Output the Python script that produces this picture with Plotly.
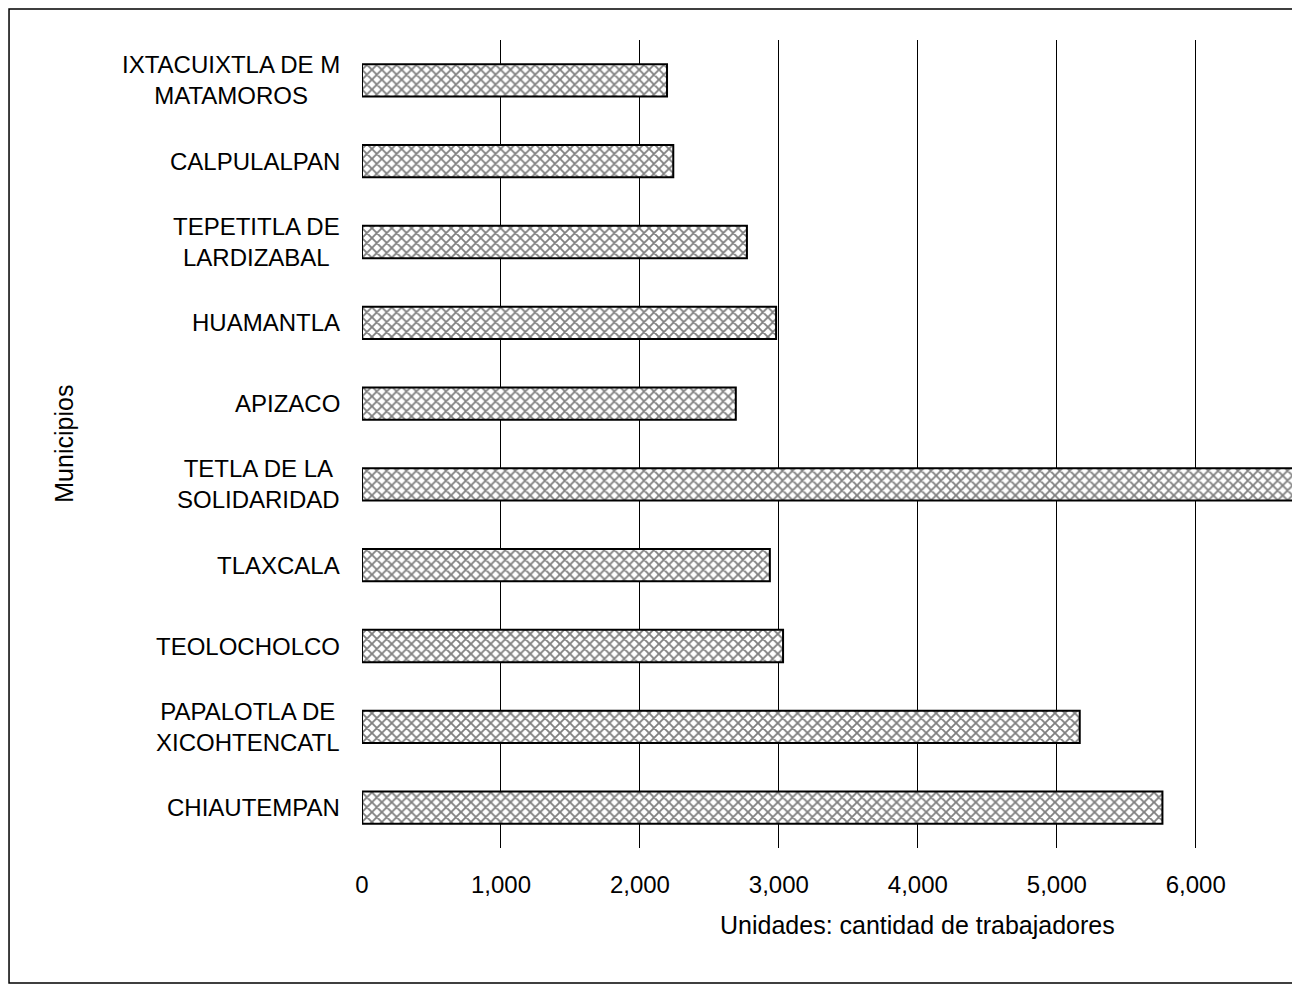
import plotly.graph_objects as go

municipios = [
    "IXTACUIXTLA DE M<br>MATAMOROS",
    "CALPULALPAN",
    "TEPETITLA DE<br>LARDIZABAL",
    "HUAMANTLA",
    "APIZACO",
    "TETLA DE LA<br>SOLIDARIDAD",
    "TLAXCALA",
    "TEOLOCHOLCO",
    "PAPALOTLA DE<br>XICOHTENCATL",
    "CHIAUTEMPAN",
]
trabajadores = [2195, 2240, 2770, 2980, 2690, 6900, 2935, 3030, 5165, 5760]
tick_vals = [0, 1000, 2000, 3000, 4000, 5000, 6000]
tick_text = ["0", "1,000", "2,000", "3,000", "4,000", "5,000", "6,000"]

FONT = "Liberation Sans, Arial, sans-serif"

fig = go.Figure()
fig.add_trace(go.Bar(
    x=trabajadores,
    y=municipios,
    orientation="h",
    width=0.4,
    marker=dict(
        color="white",
        line=dict(color="black", width=2),
        pattern=dict(shape="x", size=7, solidity=0.45, fgcolor="black", bgcolor="white"),
    ),
    showlegend=False,
    cliponaxis=True,
))

for name in municipios:
    fig.add_annotation(
        x=0, xref="paper", y=name, yref="y",
        text=name, showarrow=False, xanchor="right", yanchor="middle",
        xshift=-20, align="center",
        font=dict(family=FONT, size=24, color="black"),
    )

fig.add_annotation(
    x=0.592, xref="paper", y=-0.095, yref="paper",
    text="Unidades: cantidad de trabajadores", showarrow=False,
    xanchor="center", yanchor="middle",
    font=dict(family=FONT, size=25, color="black"),
)
fig.add_annotation(
    x=-0.318, xref="paper", y=0.5, yref="paper",
    text="Municipios", showarrow=False, textangle=-90,
    xanchor="center", yanchor="middle",
    font=dict(family=FONT, size=25, color="black"),
)

fig.add_shape(
    type="rect", xref="paper", yref="paper",
    x0=-0.3763, x1=1.02, y0=-0.1671, y1=1.0384,
    line=dict(color="black", width=1.5), fillcolor="rgba(0,0,0,0)", layer="below",
)

fig.update_xaxes(
    range=[0, 6750],
    tickvals=tick_vals, ticktext=tick_text,
    showgrid=True, gridcolor="black", gridwidth=1,
    zeroline=False, showline=False, ticks="",
    ticklabelstandoff=20,
    tickfont=dict(family=FONT, size=24, color="black"),
)
fig.update_yaxes(
    categoryorder="array", categoryarray=municipios, autorange="reversed",
    showticklabels=False, showgrid=False, zeroline=False, showline=False, ticks="",
)
fig.update_layout(
    width=1292, height=977,
    margin=dict(l=354, r=0, t=32, b=137),
    plot_bgcolor="white", paper_bgcolor="white",
    bargap=0.6,
)
fig.write_html("out.html")
